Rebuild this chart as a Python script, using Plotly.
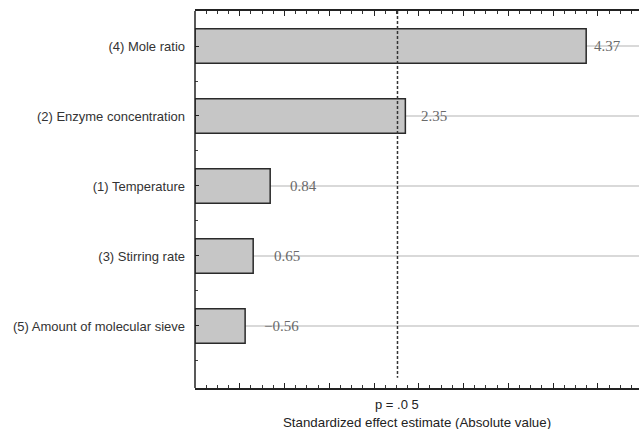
import plotly.graph_objects as go

factors = ["(4) Mole ratio", "(2) Enzyme concentration", "(1) Temperature",
           "(3) Stirring rate", "(5) Amount of molecular sieve"]
effects = [4.37, 2.35, 0.84, 0.65, -0.56]
p_crit = 2.262
p_label = "p = .0 5"
x_title = "Standardized effect estimate (Absolute value)"

# styling
label_shift = [6, 14, 18, 19, 17]
X_MAX = 4.96
Y_TOP, Y_BOT = -0.5, 4.886

ypos = list(range(len(factors)))
absvals = [abs(v) for v in effects]

fig = go.Figure()
fig.add_trace(go.Bar(
    x=absvals, y=ypos, orientation="h", width=0.49,
    marker=dict(color="#c6c6c6", line=dict(color="#2a2a2a", width=1.5)),
    hoverinfo="skip", showlegend=False,
))

shapes = []
annotations = []
for i, (v, a) in enumerate(zip(effects, absvals)):
    shapes.append(dict(type="line", xref="x", yref="y", x0=a, x1=X_MAX, y0=i, y1=i,
                       line=dict(color="#b4b4b4", width=1.2), layer="below"))
    annotations.append(dict(x=a, y=i, xref="x", yref="y", xanchor="left", yanchor="middle",
                            xshift=label_shift[i], showarrow=False,
                            text=f"{v:.2f}".replace("-", "\u2212"),
                            font=dict(family="Liberation Serif", size=15, color="#6a6a6a")))

# p=.05 line
shapes.append(dict(type="line", xref="x", yref="y", x0=p_crit, x1=p_crit, y0=Y_TOP, y1=4.74,
                   line=dict(color="#333333", width=1.5, dash="3px,2px")))
# left frame line
shapes.append(dict(type="line", xref="paper", yref="paper", x0=0, x1=0, y0=0, y1=1,
                   line=dict(color="#222222", width=1.5)))

annotations.append(dict(x=p_crit, y=0, xref="x", yref="paper", xanchor="center", yanchor="top",
                        yshift=-7, showarrow=False, text=p_label,
                        font=dict(family="Liberation Sans, Arial", size=13, color="#222222")))
annotations.append(dict(x=0.5, y=0, xref="paper", yref="paper", xanchor="center", yanchor="top",
                        yshift=-25, showarrow=False, text=x_title,
                        font=dict(family="Liberation Sans, Arial", size=13.3, color="#222222")))

fig.update_layout(
    width=639, height=429,
    margin=dict(l=195, r=0, t=11, b=41),
    paper_bgcolor="white", plot_bgcolor="white",
    shapes=shapes, annotations=annotations,
    xaxis=dict(range=[0, X_MAX], showgrid=False, zeroline=False, showticklabels=False,
               showline=True, linecolor="#222222", linewidth=1.5, mirror="allticks",
               ticks="inside", ticklen=5, tickcolor="#222222", dtick=0.5,
               minor=dict(ticks="inside", ticklen=3, tickcolor="#333333", dtick=0.125)),
    yaxis=dict(range=[Y_BOT, Y_TOP], showgrid=False, zeroline=False,
               tickmode="array", tickvals=ypos, ticktext=factors,
               ticks="inside", ticklen=4, tickcolor="#222222", ticklabelstandoff=9,
               tickfont=dict(family="Liberation Sans, Arial", size=13, color="#333333"),
               minor=dict(ticks="inside", ticklen=3, tickcolor="#444444", tick0=0.5, dtick=1)),
    bargap=0.5,
)

fig.write_html("out.html")
